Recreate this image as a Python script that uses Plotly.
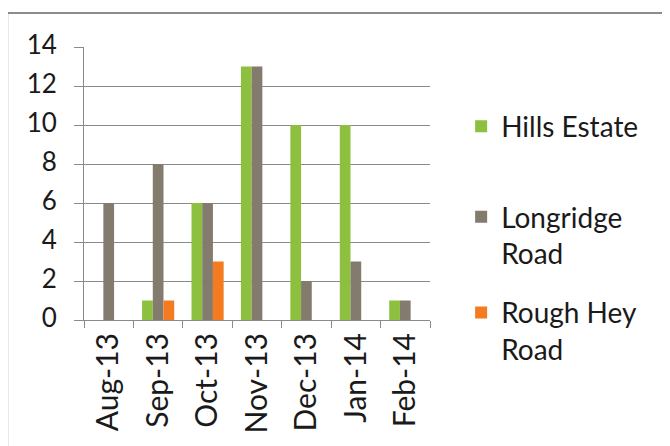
import plotly.graph_objects as go

months = ["Aug-13", "Sep-13", "Oct-13", "Nov-13", "Dec-13", "Jan-14", "Feb-14"]
hills_estate = [0, 1, 6, 13, 10, 10, 1]
longridge_road = [6, 8, 6, 13, 2, 3, 1]
rough_hey_road = [0, 1, 3, 0, 0, 0, 0]

series_names = ["Hills Estate", "Longridge<br>Road", "Rough Hey<br>Road"]
series_colors = ["#8DC03F", "#847B6F", "#F47B20"]
series_values = [hills_estate, longridge_road, rough_hey_road]
series_legends = ["legend", "legend2", "legend2"]

FONT = "Lato"
GRID = "#8a8a8a"
LEG_FONT = dict(family=FONT, size=28, color="#1a1a1a")

fig = go.Figure()
for i, (name, color, vals, leg) in enumerate(
        zip(series_names, series_colors, series_values, series_legends)):
    fig.add_trace(go.Bar(
        x=months, y=vals, name=name,
        marker=dict(color=color, line=dict(width=0)),
        legendgroup=f"g{i}", legend=leg,
    ))

fig.update_layout(
    width=670, height=446,
    margin=dict(l=76, r=248, t=39, b=134),
    paper_bgcolor="white", plot_bgcolor="white",
    barmode="group", bargap=0.35, bargroupgap=0,
    font=dict(family=FONT, color="#1a1a1a", size=25),
    showlegend=True,
    legend=dict(
        x=1.09, y=0.80, xanchor="left", yanchor="top",
        font=LEG_FONT, valign="top", bgcolor="rgba(0,0,0,0)",
    ),
    legend2=dict(
        x=1.09, y=0.469, xanchor="left", yanchor="top",
        font=LEG_FONT, tracegroupgap=20, valign="top",
        bgcolor="rgba(0,0,0,0)",
    ),
    xaxis=dict(
        type="category", tickson="boundaries", ticks="outside", ticklen=7,
        tickcolor=GRID, showline=True, linecolor=GRID, linewidth=1,
        tickangle=-90, tickfont=dict(family=FONT, size=30, color="#1a1a1a"),
        showgrid=False, fixedrange=True,
    ),
    yaxis=dict(
        range=[0, 14], dtick=2, tick0=0, ticks="outside", ticklen=9,
        tickcolor=GRID, showline=True, linecolor=GRID, linewidth=1,
        gridcolor=GRID, gridwidth=1, zeroline=False,
        tickfont=dict(family=FONT, size=26, color="#1a1a1a"),
        ticklabelstandoff=12, ticklabelshift=-2,
    ),
)

# outer frame of the embedded chart (top and left edges visible)
fig.add_shape(type="line", xref="paper", yref="paper",
              x0=-0.222, x1=1.8, y0=1.125, y1=1.125,
              line=dict(color="#8c8c8c", width=2))
fig.add_shape(type="line", xref="paper", yref="paper",
              x0=-0.222, x1=-0.222, y0=1.125, y1=-0.6,
              line=dict(color="#8c8c8c", width=2))

fig.write_html("out.html")
